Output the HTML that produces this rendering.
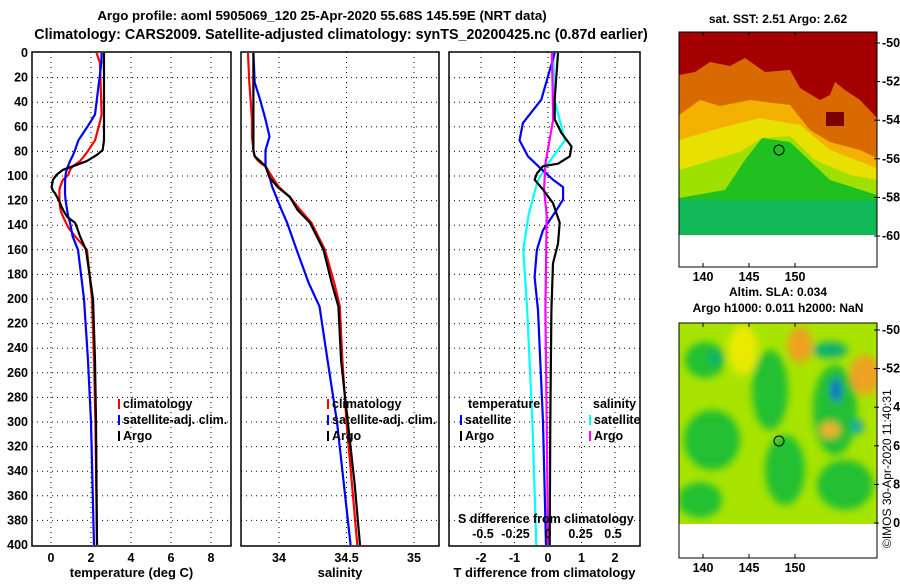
<!DOCTYPE html>
<html><head><meta charset="utf-8"><style>
body{margin:0;background:#fff;}
svg{font-family:"Liberation Sans",sans-serif;font-weight:bold;}
</style></head><body>
<svg id="c" width="900" height="580" viewBox="0 0 900 580" xmlns="http://www.w3.org/2000/svg">
<defs><filter id="bl"><feGaussianBlur stdDeviation="4"/></filter>
<clipPath id="m1"><rect x="679" y="32" width="198" height="203"/></clipPath>
<clipPath id="m2"><rect x="679" y="323" width="198" height="201"/></clipPath></defs>
<text x="322" y="20" font-size="13.3" text-anchor="middle">Argo profile: aoml 5905069_120 25-Apr-2020 55.68S 145.59E (NRT data)</text>
<text x="341" y="39" font-size="14.3" text-anchor="middle">Climatology: CARS2009. Satellite-adjusted climatology: synTS_20200425.nc (0.87d earlier)</text>
<g id="plots"></g>
<g>
<text x="778" y="23" font-size="12" text-anchor="middle">sat. SST: 2.51 Argo: 2.62</text>
<g clip-path="url(#m1)">
<rect x="679" y="32" width="198" height="203" fill="#a50000"/>
<path d="M679,75 L695,72 L710,62 L730,66 L745,58 L765,72 L790,70 L800,88 L820,100 L830,95 L835,82 L845,90 L860,100 L877,118 L877,235 L679,235Z" fill="#d86a00"/>
<path d="M679,115 L700,100 L720,106 L750,100 L790,105 L810,130 L830,142 L860,150 L877,158 L877,235 L679,235Z" fill="#f3b000"/>
<path d="M679,140 L720,128 L760,118 L800,125 L830,150 L877,168 L877,235 L679,235Z" fill="#e8e000"/>
<path d="M679,170 L740,152 L762,138 L790,136 L815,160 L850,175 L877,180 L877,235 L679,235Z" fill="#9ee000"/>
<path d="M679,198 L725,190 L745,160 L762,138 L790,142 L830,180 L877,195 L877,235 L679,235Z" fill="#20c020"/>
<rect x="679" y="200" width="198" height="35" fill="#10b858"/>
<rect x="826" y="112" width="18" height="14" fill="#7a0000"/>
</g>
<rect x="679" y="32" width="198" height="235" fill="none" stroke="#000"/>
<circle cx="779" cy="150" r="5" fill="none" stroke="#000"/>
</g>
<g>
<text x="778" y="296" font-size="12" text-anchor="middle">Altim. SLA: 0.034</text>
<text x="778" y="312" font-size="12" text-anchor="middle">Argo h1000: 0.011 h2000: NaN</text>
<g clip-path="url(#m2)">
<rect x="679" y="323" width="198" height="201" fill="#a8e400"/>
<g filter="url(#bl)">
<ellipse cx="705" cy="360" rx="20" ry="18" fill="#20c030"/>
<ellipse cx="712" cy="440" rx="28" ry="30" fill="#20c030"/>
<ellipse cx="700" cy="500" rx="22" ry="18" fill="#20c030"/>
<ellipse cx="770" cy="390" rx="18" ry="40" fill="#20c030"/>
<ellipse cx="785" cy="470" rx="20" ry="35" fill="#20c030"/>
<ellipse cx="835" cy="410" rx="22" ry="45" fill="#20c030"/>
<ellipse cx="845" cy="485" rx="28" ry="25" fill="#20c030"/>
<ellipse cx="743" cy="350" rx="15" ry="25" fill="#eaea00"/>
<ellipse cx="800" cy="345" rx="12" ry="18" fill="#f0a020"/>
<ellipse cx="865" cy="375" rx="15" ry="20" fill="#f0a020"/>
<ellipse cx="830" cy="430" rx="10" ry="8" fill="#f0b030"/>
<ellipse cx="836" cy="390" rx="5" ry="12" fill="#1060d0"/>
<ellipse cx="858" cy="427" rx="5" ry="7" fill="#10a0c0"/>
<ellipse cx="715" cy="358" rx="6" ry="8" fill="#10b070"/>
<ellipse cx="830" cy="350" rx="18" ry="8" fill="#10b070"/>
</g>
</g>
<rect x="679" y="323" width="198" height="235" fill="none" stroke="#000"/>
<circle cx="779" cy="441" r="5" fill="none" stroke="#000"/>
</g>
<g id="maxes"></g>
<rect x="879" y="376" width="14" height="174" fill="#fff"/>
<text transform="translate(891,548) rotate(-90)" font-size="12" font-weight="normal">©IMOS 30-Apr-2020 11:40:31</text>
</svg>
<script>
const tempDepths=[0,8,50,58,71,79,83,88,92,95,99,103,109,112,114,120,125,129,133,138,142,149,160,200,250,300,400];
const tempArgo=[2.65,2.65,2.65,2.65,2.65,2.58,2.28,1.78,1.1,0.6,0.28,0.1,0.03,0.1,0.2,0.4,0.53,0.65,0.8,1.2,1.3,1.45,1.75,2.1,2.2,2.25,2.3];
const tempClim=[2.28,2.45,2.53,2.42,2.2,1.87,1.7,1.45,1.1,0.95,0.87,0.6,0.45,0.42,0.42,0.42,0.45,0.5,0.6,0.75,0.87,1.2,1.8,2.05,2.15,2.22,2.3];
const tempSat=[2.53,2.52,2.2,1.9,1.37,1.2,1.1,0.95,0.85,0.78,0.73,0.71,0.7,0.7,0.7,0.73,0.78,0.82,0.86,0.95,1.0,1.08,1.35,1.65,1.85,2.0,2.15];
const salDepths=[0,24,38,54,68,79,84,87,90,92,101,109,117,128,138,160,187,206,250,300,350,400];
const salArgo=[33.81,33.81,33.81,33.81,33.81,33.81,33.82,33.85,33.88,33.9,33.93,33.99,34.08,34.14,34.23,34.33,34.39,34.44,34.46,34.51,34.56,34.6];
const salClim=[33.77,33.78,33.79,33.8,33.8,33.81,33.82,33.84,33.87,33.9,33.95,34.0,34.08,34.16,34.24,34.34,34.41,34.45,34.47,34.5,34.54,34.58];
const salSat=[33.81,33.82,33.86,33.9,33.93,33.9,33.9,33.9,33.9,33.9,33.93,33.95,33.98,34.02,34.06,34.13,34.22,34.3,34.36,34.43,34.48,34.53];
const tDiffSatDepths=[0,38,57,71,84,93,103,109,119,130,144,160,182,209,300,400];
const tDiffSat=[0.2,-0.2,-0.75,-0.85,-0.6,-0.25,0.15,0.45,0.45,0.2,-0.15,-0.33,-0.4,-0.3,-0.15,-0.06];
const tDiffArgoDepths=[0,38,54,65,76,84,90,92,98,103,111,122,138,155,171,209,300,400];
const tDiffArgo=[0.3,0.2,0.2,0.4,0.7,0.65,0.3,-0.15,-0.33,-0.4,-0.15,0.15,0.35,0.3,0.15,0.1,0.07,0.05];
const sDiffSatDepths=[0,38,71,90,104,132,160,209,300,400];
const sDiffSat=[0.04,0.05,0.13,0.0,-0.08,-0.15,-0.19,-0.16,-0.12,-0.09];
const sDiffArgoDepths=[0,54,90,111,132,209,300,400];
const sDiffArgo=[0.03,0.04,-0.02,-0.03,-0.01,-0.02,-0.01,0.0];
const depthTicks=[0,20,40,60,80,100,120,140,160,180,200,220,240,260,280,300,320,340,360,380,400];
const tTicks=[0,2,4,6,8];
const sTicks=[34,34.5,35];
const dTicks=[-2,-1,0,1,2];
const sdTicks=[-0.5,-0.25,0,0.25,0.5];
const lonTicks=[140,145,150];
const latTicks=[-50,-52,-54,-56,-58,-60];
const SVGNS="http://www.w3.org/2000/svg";
const G=document.getElementById('plots');
const yScale=d=>53+d*1.23;
function mk(tag,attrs,parent){const e=document.createElementNS(SVGNS,tag);for(const k in attrs)e.setAttribute(k,attrs[k]);(parent||G).appendChild(e);return e;}
function panel(x0,x1,xs,ticks,label,name){
  const g=mk('g',{});
  
  
  ticks.forEach(t=>{const l=mk('line',{x1:xs(t),x2:xs(t),y1:52,y2:546,stroke:'#000','stroke-dasharray':'1,4'},g);
    
    
    const tx=mk('text',{x:xs(t),y:562,'font-size':12.5,'text-anchor':'middle'},g);tx.textContent=String(t);
    
    });
  depthTicks.forEach(d=>{if(d>0&&d<400){const l=mk('line',{x1:x0,x2:x1,y1:yScale(d),y2:yScale(d),stroke:'#000','stroke-dasharray':'1,4'},g);
    
    }});
  const r=mk('rect',{x:x0,y:52,width:x1-x0,height:494,fill:'none',stroke:'#000','stroke-width':1.5},g);
  
  
  const t=mk('text',{x:(x0+x1)/2,y:577,'font-size':13,'text-anchor':'middle'},g);t.textContent=label;
  
  
}
function line(xs,dep,vals,color,name){
  const pts=vals.map((v,i)=>xs(v).toFixed(1)+','+yScale(dep[i]).toFixed(1)).join(' ');
  const p=mk('polyline',{points:pts,fill:'none',stroke:color,'stroke-width':2.2,'stroke-linejoin':'round'});
  
  
}
function legend(x,y,color,label){
  if(color){const b=mk('rect',{x:x,y:y-9,width:2,height:10,fill:color});
  
  }
  const t=mk('text',{x:x+5,y:y,'font-size':12.5});t.textContent=label;
  
  
}
const xT=v=>51+v*20;
panel(32,231,xT,tTicks,'temperature (deg C)','temperature-panel');
depthTicks.forEach(d=>{const t=mk('text',{x:28,y:yScale(d)+4,'font-size':12.5,'text-anchor':'end'});t.textContent=String(d);
  
  });
line(xT,tempDepths,tempClim,'#f00','temp-climatology-line');
line(xT,tempDepths,tempSat,'#00f','temp-satellite-line');
line(xT,tempDepths,tempArgo,'#000','temp-argo-line');
legend(118,408,'#f00','climatology');legend(118,424,'#00f','satellite-adj. clim.');legend(118,440,'#000','Argo');
const xS=v=>279+(v-34)*135;
panel(241,439,xS,sTicks,'salinity','salinity-panel');
line(xS,salDepths,salClim,'#f00','sal-climatology-line');
line(xS,salDepths,salSat,'#00f','sal-satellite-line');
line(xS,salDepths,salArgo,'#000','sal-argo-line');
legend(327,408,'#f00','climatology');legend(327,424,'#00f','satellite-adj. clim.');legend(327,440,'#000','Argo');
const xD=v=>548+v*33.5;
const xSD=v=>548+v*130;
panel(449,640,xD,dTicks,'T difference from climatology','difference-panel');
line(xSD,sDiffSatDepths,sDiffSat,'#0ff','sdiff-satellite-line');
line(xD,tDiffSatDepths,tDiffSat,'#00f','tdiff-satellite-line');
line(xSD,sDiffArgoDepths,sDiffArgo,'#f0f','sdiff-argo-line');
line(xD,tDiffArgoDepths,tDiffArgo,'#000','tdiff-argo-line');
legend(463,408,null,'temperature');legend(460,424,'#00f','satellite');legend(460,440,'#000','Argo');
legend(588,408,null,'salinity');legend(589,424,'#0ff','satellite');legend(589,440,'#f0f','Argo');
let st=mk('text',{x:458,y:523,'font-size':12.5});st.textContent='S difference from climatology';


sdTicks.forEach(v=>{const t=mk('text',{x:xSD(v),y:538,'font-size':12.5,'text-anchor':'middle'});t.textContent=String(v);
  
  });
const M=document.getElementById('maxes');
function mapAxes(top,lat0y){
  lonTicks.forEach(lon=>{const x=703+(lon-140)*9.2;
    const t=mk('text',{x:x,y:top+249,'font-size':12.5,'text-anchor':'middle'},M);t.textContent=String(lon);
    
    
    mk('line',{x1:x,x2:x,y1:top,y2:top+4,stroke:'#000'},M);
    mk('line',{x1:x,x2:x,y1:top+231,y2:top+235,stroke:'#000'},M);});
  latTicks.forEach(lat=>{const y=lat0y+(-50-lat)*19.3;
    mk('line',{x1:874,x2:880,y1:y,y2:y,stroke:'#000'},M);
    const t=mk('text',{x:882,y:y+4,'font-size':12.5},M);t.textContent=String(lat);
    
    });
}
mapAxes(32,43);mapAxes(323,330);
</script>
</body></html>
